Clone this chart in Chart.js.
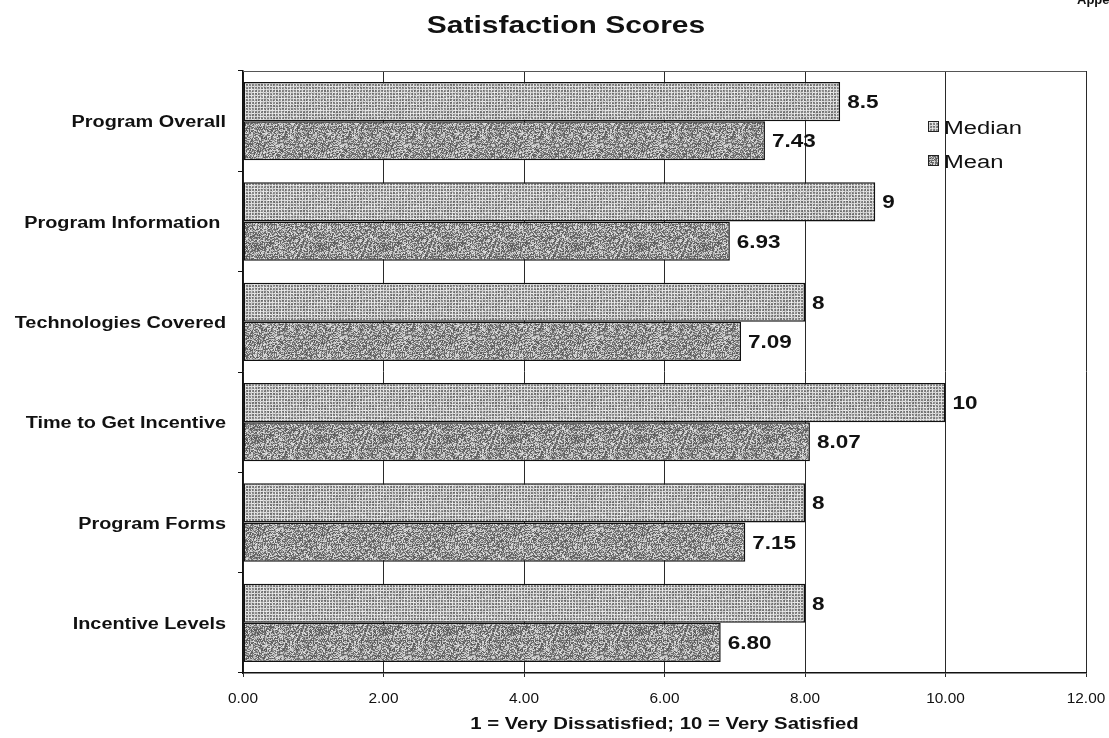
<!DOCTYPE html>
<html>
<head>
<meta charset="utf-8">
<title>Satisfaction Scores</title>
<script src="https://cdn.jsdelivr.net/npm/chart.js@4/dist/chart.umd.min.js"></script>
<style>
  html, body { margin: 0; padding: 0; background: #ffffff; overflow: hidden; }
  canvas { display: block; }
</style>
</head>
<body>
<canvas id="chart" width="1109" height="738"></canvas>
<script>
// ---- data ----
const categories = ['Program Overall', 'Program Information ', 'Technologies Covered',
                    'Time to Get Incentive', 'Program Forms', 'Incentive Levels'];
const seriesNames = ['Median', 'Mean'];
const medianScores = [8.5, 9, 8, 10, 8, 8];
const meanScores = [7.43, 6.93, 7.09, 8.07, 7.15, 6.80];
const xTickValues = [0, 2, 4, 6, 8, 10, 12];
const chartTitle = 'Satisfaction Scores';
const axisTitle = '1 = Very Dissatisfied; 10 = Very Satisfied';
const headerNote = 'Appendix';

// ---- styling helpers ----
const FONT = '"Liberation Sans", Arial, Helvetica, sans-serif';
const INK = '#111111';
const STRETCH = 1.25; // wide, print-style lettering

function hash(x, y, s) {
  let n = Math.imul(x, 374761393) + Math.imul(y, 668265263) + Math.imul(s, 1442695041);
  n = Math.imul(n ^ (n >>> 13), 1274126177);
  n = n ^ (n >>> 16);
  return (n >>> 0) & 255;
}

function makeTile(size, shade) {
  const c = document.createElement('canvas');
  c.width = c.height = size;
  const g = c.getContext('2d');
  const img = g.createImageData(size, size);
  for (let y = 0; y < size; y++) {
    for (let x = 0; x < size; x++) {
      const v = shade(x, y);
      const i = (y * size + x) * 4;
      img.data[i] = img.data[i + 1] = img.data[i + 2] = v;
      img.data[i + 3] = 255;
    }
  }
  g.putImageData(img, 0, 0);
  return c;
}

// light screen: pale lines over a fine grey grid
const medianTile = makeTile(48, (x, y) => {
  const r = hash(x, y, 7);
  if (x % 3 === 2 || y % 3 === 2) return 200 + (r % 40);
  return 105 + (r % 50);
});
// darker mottled screen
const meanTile = makeTile(64, (x, y) => {
  const a = hash(x, y, 3), b = hash(x, y, 11);
  if (a < 140) return 85 + (b % 50);
  return 170 + (b % 60);
});

const ctx0 = document.getElementById('chart').getContext('2d');
const medianFill = ctx0.createPattern(medianTile, 'repeat');
const meanFill = ctx0.createPattern(meanTile, 'repeat');

function wideText(ctx, text, x, y, font, align, sx) {
  ctx.save();
  ctx.font = font;
  ctx.textBaseline = 'alphabetic';
  ctx.textAlign = 'left';
  const w = ctx.measureText(text).width * sx;
  const left = align === 'right' ? x - w : align === 'center' ? x - w / 2 : x;
  ctx.translate(left, y);
  ctx.scale(sx, 1);
  ctx.fillStyle = INK;
  ctx.fillText(text, 0, 0);
  ctx.restore();
}

// ---- texts, value labels, legend and frame ----
const decorations = {
  id: 'decorations',
  afterDatasetsDraw(chart) {
    const ctx = chart.ctx;
    const area = chart.chartArea;
    const xs = chart.scales.x, ys = chart.scales.y;

    // value labels at bar ends
    chart.data.datasets.forEach((ds, di) => {
      const meta = chart.getDatasetMeta(di);
      meta.data.forEach((bar, i) => {
        const v = ds.data[i];
        const txt = di === 0 ? String(v) : v.toFixed(2);
        wideText(ctx, txt, bar.x + 7, bar.y + 6.5, 'bold 18px ' + FONT, 'left', STRETCH);
      });
    });

    // frame top edge
    ctx.save();
    ctx.strokeStyle = '#555555';
    ctx.lineWidth = 1;
    ctx.beginPath();
    ctx.moveTo(area.left, area.top + 0.5);
    ctx.lineTo(area.right, area.top + 0.5);
    ctx.stroke();
    ctx.restore();

    // legend inside the plot
    const entries = [
      { name: seriesNames[0], fill: medianFill, y: 127 },
      { name: seriesNames[1], fill: meanFill, y: 161 }
    ];
    entries.forEach(e => {
      ctx.save();
      ctx.fillStyle = e.fill;
      ctx.fillRect(928, e.y - 6, 11, 11);
      ctx.strokeStyle = '#222222';
      ctx.lineWidth = 1;
      ctx.strokeRect(928.5, e.y - 5.5, 10, 10);
      ctx.restore();
      wideText(ctx, e.name, 944, e.y + 7, '18px ' + FONT, 'left', 1.32);
    });

    // category labels
    categories.forEach((c, i) => {
      const y = ys.getPixelForValue(i);
      wideText(ctx, c, 226, y + 6, 'bold 16px ' + FONT, 'right', 1.24);
    });

    // value axis labels
    xTickValues.forEach(v => {
      wideText(ctx, v.toFixed(2), xs.getPixelForValue(v), 703, '14px ' + FONT, 'center', 1.1);
    });

    // titles
    wideText(ctx, chartTitle, 566, 33, 'bold 24px ' + FONT, 'center', 1.25);
    wideText(ctx, axisTitle, (area.left + area.right) / 2, 729, 'bold 16px ' + FONT, 'center', 1.27);
    wideText(ctx, headerNote, 1077, 4, 'bold 13px ' + FONT, 'left', 1.0);
  }
};

new Chart(ctx0, {
  type: 'bar',
  data: {
    labels: categories,
    datasets: [
      {
        label: seriesNames[0],
        data: medianScores,
        backgroundColor: medianFill,
        borderColor: '#111111',
        borderWidth: 1.5,
        borderSkipped: false
      },
      {
        label: seriesNames[1],
        data: meanScores,
        backgroundColor: meanFill,
        borderColor: '#111111',
        borderWidth: 1.5,
        borderSkipped: false
      }
    ]
  },
  options: {
    indexAxis: 'y',
    responsive: false,
    animation: false,
    devicePixelRatio: 1,
    layout: { padding: { top: 71, right: 23, bottom: 0, left: 0 } },
    datasets: { bar: { categoryPercentage: 0.78, barPercentage: 1.0 } },
    plugins: {
      legend: { display: false },
      title: { display: false },
      tooltip: { enabled: false }
    },
    scales: {
      x: {
        type: 'linear',
        min: 0,
        max: 12,
        ticks: { stepSize: 2, display: false },
        grid: { color: '#2a2a2a', lineWidth: 1, tickLength: 4, drawTicks: true },
        border: { display: true, color: '#111111', width: 1.5 },
        afterFit(scale) { scale.height = 65; }
      },
      y: {
        type: 'category',
        ticks: { display: false },
        grid: { drawOnChartArea: false, drawTicks: true, tickLength: 5, color: '#111111' },
        border: { display: true, color: '#111111', width: 1.5 },
        afterFit(scale) { scale.width = 243; }
      }
    }
  },
  plugins: [decorations]
});
</script>
</body>
</html>
